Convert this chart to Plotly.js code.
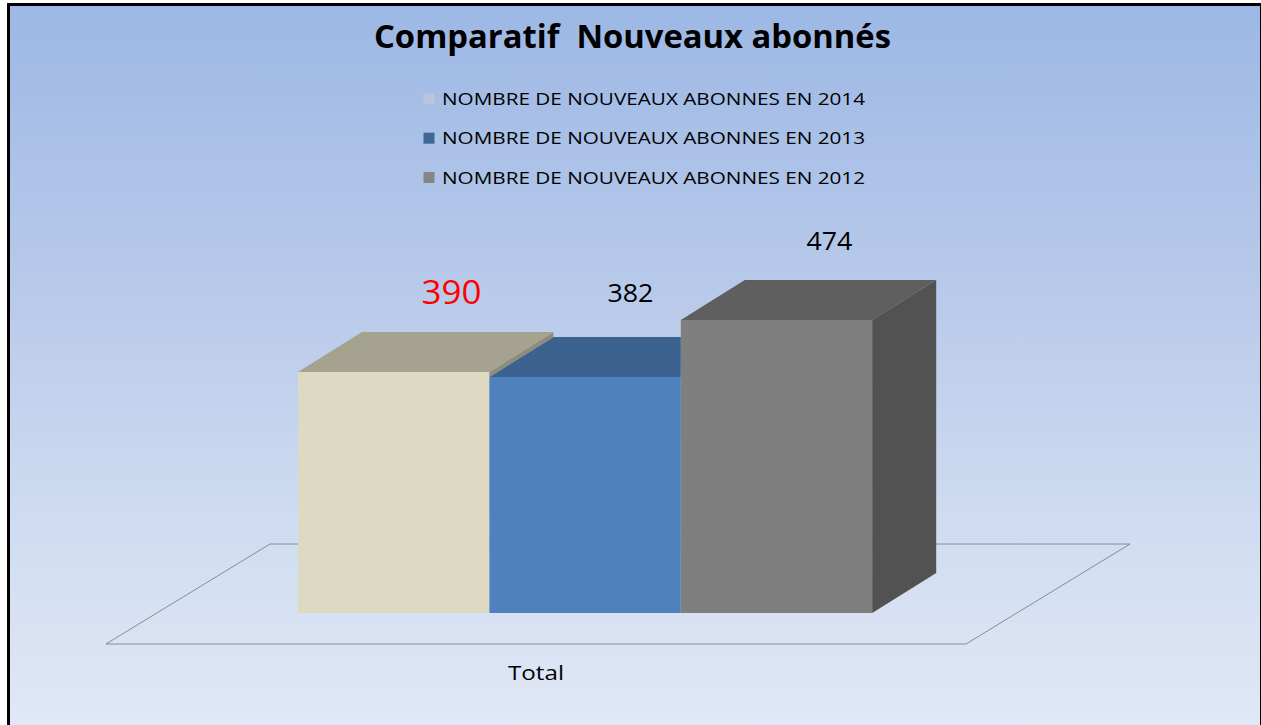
<!DOCTYPE html>
<html>
<head>
<meta charset="utf-8">
<script src="https://cdn.plot.ly/plotly-3.0.1.min.js"></script>
<style>
html,body{margin:0;padding:0;background:#fff;width:1261px;height:725px;overflow:hidden}
#frame{position:absolute;left:7px;top:3px;width:1250px;height:722px;border:3px solid #000;border-bottom:0;
background:linear-gradient(to bottom,#9DB8E5 0%,#BACBEA 42%,#CFDCF1 72%,#E1E8F6 100%)}
#chart{position:absolute;left:0;top:0;width:1261px;height:725px}
</style>
</head>
<body>
<div id="frame"></div>
<div id="chart"></div>
<script>
const chartTitle = 'Comparatif\u00A0 Nouveaux abonnés';
const category = ['Total'];
const seriesNames = ['NOMBRE DE NOUVEAUX ABONNES EN 2014','NOMBRE DE NOUVEAUX ABONNES EN 2013','NOMBRE DE NOUVEAUX ABONNES EN 2012'];
const seriesValues = [390, 382, 474];
const legendColors = ['#B9C6DE','#3F6797','#858585'];
const frontColors = ['#DDD9C3','#4F81BD','#7F7F7F'];
const topColors = ['#A5A28F','#3C638F','#5F5F5F'];
const sideColors = ['#8F8C7B','#3C638F','#525252'];
const labelColors = ['#FF0000','#000000','#000000'];

// pixel <-> axis calibration of the page
const W = 1261, H = 725, plotBottom = 650;
const barPx = 191.4, firstLeftPx = 298, baselinePx = 613, unitPx = 0.618;
const xr = [-0.5 - firstLeftPx/barPx, -0.5 + (W-firstLeftPx)/barPx];
const yr = [(baselinePx-plotBottom)/unitPx, baselinePx/unitPx];
const dx = 64/barPx, dy = 40/unitPx;
const floorX = [(106-firstLeftPx)/barPx-0.5,(966-firstLeftPx)/barPx-0.5];
const floorDx = 164/barPx, floorFront = -31/unitPx, floorDy = 100/unitPx;

const traces = [];
seriesValues.forEach((v,i)=>{
  traces.push({type:'bar',x:[i],y:[v],width:1,marker:{color:frontColors[i],line:{width:0}},showlegend:false,hoverinfo:'y'});
});
function face(xs,ys,color){
  return {type:'scatter',mode:'lines',x:xs,y:ys,fill:'toself',fillcolor:color,line:{width:0,color:color},showlegend:false,hoverinfo:'skip'};
}
// blue top (occluded on its right by the front of the grey bar)
const [a,b,c] = seriesValues;
traces.push(face([0.5,0.5+dx,1.5,1.5],[b,b+dy,b+dy,b],topColors[1]));
// tan side sliver above the blue bar, tan top
traces.push(face([0.5,0.5+dx,0.5+dx,0.5],[a,a+dy,b+dy,b],sideColors[0]));
traces.push(face([-0.5,-0.5+dx,0.5+dx,0.5],[a,a+dy,a+dy,a],topColors[0]));
// grey top and side
traces.push(face([1.5,1.5+dx,2.5+dx,2.5],[c,c+dy,c+dy,c],topColors[2]));
traces.push(face([2.5,2.5+dx,2.5+dx,2.5],[c,c+dy,dy,0],sideColors[2]));
// legend entries
seriesNames.forEach((n,i)=>{
  traces.push({type:'scatter',mode:'markers',x:[null],y:[null],name:n,legendgroup:'g'+i,
    marker:{symbol:'square',size:11,color:legendColors[i]},hoverinfo:'skip'});
});

const labelShift = [[58,-40,32],[45,-45,25],[53,-40,25]];
const annotations = seriesValues.map((v,i)=>({
  x:i,y:v+dy,xref:'x',yref:'y',text:String(v),showarrow:false,
  xshift:labelShift[i][0],yshift:-labelShift[i][1],xanchor:'center',yanchor:'middle',
  font:{family:'Open Sans, sans-serif',size:labelShift[i][2],color:labelColors[i]}
}));

const floor = {type:'path',layer:'below',xref:'x',yref:'y',
  path:`M${floorX[0]},${floorFront} L${floorX[1]},${floorFront} L${floorX[1]+floorDx},${floorFront+floorDy} L${floorX[0]+floorDx},${floorFront+floorDy} Z`,
  line:{color:'#8C8C8C',width:1},fillcolor:'rgba(0,0,0,0)'};

const layout = {
  width:W,height:H,
  margin:{l:0,r:0,t:0,b:H-plotBottom,pad:0},
  paper_bgcolor:'rgba(0,0,0,0)',plot_bgcolor:'rgba(0,0,0,0)',
  barmode:'overlay',
  title:{text:'<b>'+chartTitle+'</b>',x:632.5/W,xanchor:'center',xref:'paper',yref:'container',y:1-37/H,yanchor:'middle',
    font:{family:'Open Sans, sans-serif',size:32,color:'#000'}},
  xaxis:{range:xr,showgrid:false,zeroline:false,showline:false,ticks:'',tickmode:'array',
    tickvals:[(floorX[0]+floorX[1])/2],ticktext:category,
    tickfont:{family:'Open Sans, sans-serif',size:20,color:'#000'},ticklabelstandoff:9,fixedrange:true},
  yaxis:{range:yr,showgrid:false,zeroline:false,showline:false,showticklabels:false,ticks:'',fixedrange:true},
  showlegend:true,
  legend:{x:402/W,y:1-82/plotBottom,xanchor:'left',yanchor:'top',bgcolor:'rgba(0,0,0,0)',borderwidth:0,
    traceorder:'grouped',tracegroupgap:15.5,
    font:{family:'Open Sans, sans-serif',size:16,color:'#000'}},
  shapes:[floor],
  annotations:annotations
};

// The reference's text is horizontally stretched: fit each string to its measured width.
function stretch(el,width){
  if(!el) return;
  el.setAttribute('textLength',width);
  el.setAttribute('lengthAdjust','spacingAndGlyphs');
}
const labelWidths = [60,46,46];
Plotly.newPlot('chart',traces,layout,{displayModeBar:false,staticPlot:true}).then(gd=>{
  stretch(gd.querySelector('.gtitle'),517);
  const box = gd.querySelector('.legend .scrollbox');
  if(box){ box.removeAttribute('clip-path'); box.style.clipPath='none'; }
  gd.querySelectorAll('.legendtext').forEach(t=>stretch(t,423));
  gd.querySelectorAll('.legendpoints').forEach(g=>{
    g.setAttribute('transform','translate(7,0)');
  });
  stretch(gd.querySelector('.xtick text'),56);
  gd.querySelectorAll('.annotation-text').forEach((t,i)=>stretch(t,labelWidths[i]));
});
</script>
</body>
</html>
